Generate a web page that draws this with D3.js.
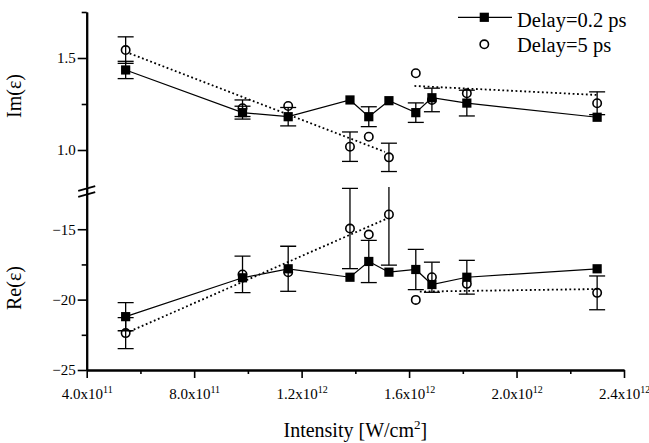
<!DOCTYPE html>
<html>
<head>
<meta charset="utf-8">
<script src="https://cdn.jsdelivr.net/npm/d3@7"></script>
<style>
  body { margin: 0; background: #fff; }
  svg { display: block; }
  svg text { font-family: 'Liberation Serif', 'DejaVu Serif', serif; }
</style>
</head>
<body>
<script>
// intensity of each measurement, W/cm^2
const intensity = [5.45e11, 9.8e11, 1.15e12, 1.38e12, 1.45e12, 1.525e12, 1.625e12, 1.685e12, 1.815e12, 2.30e12];

// Im(eps)
const im02 = [1.435, 1.203, 1.181, 1.272, 1.181, 1.268, 1.203, 1.284, 1.255, 1.178];
const im02Err = [0.047, 0.035, 0.05, 0, 0.054, 0, 0.053, 0, 0.07, 0];
const im5 = [1.543, 1.227, 1.239, 1.018, 1.072, 0.96, 1.417, 1.272, 1.308, 1.254];
const im5Err = [0.072, 0.045, 0, 0.08, 0, 0.077, 0, 0.064, 0, 0.062];

// Re(eps)
const re02 = [-21.21, -18.45, -17.81, -18.41, -17.29, -18.05, -17.86, -18.93, -18.41, -17.81];
const re02Err = [1.0, 0, 1.6, 0, 1.5, 0, 1.43, 0, 1.2, 0];
const re5 = [-22.38, -18.21, -18.05, -14.95, -15.38, -13.95, -20.02, -18.41, -18.88, -19.52];
const re5Err = [1.1, 1.3, 0, 2.85, 0, 3.6, 0, 1.07, 0, 1.2];

// dotted guide lines for the 5 ps data (two sections), [intensity, value]
const imFit = [[[5.6e11, 1.525], [1.51e12, 0.99]], [[1.62e12, 1.348], [2.30e12, 1.299]]];
const reFit = [[[5.6e11, -22.26], [1.518e12, -14.24]], [[1.64e12, -19.43], [2.30e12, -19.25]]];

const xTicks = [4e11, 8e11, 1.2e12, 1.6e12, 2.0e12, 2.4e12];
const xMinor = [6e11, 1.0e12, 1.4e12, 1.8e12, 2.2e12];
const imTicks = [1.0, 1.5], imMinor = [1.25, 1.75];
const reTicks = [-25, -20, -15], reMinor = [-22.5, -17.5];

const width = 649, height = 443;

const x = d3.scaleLinear().domain([4e11, 2.4e12]).range([86.7, 624]);
const yIm = d3.scaleLinear().domain([0.8, 1.75]).range([186.8, 12]);
const yRe = d3.scaleLinear().domain([-25, -12]).range([370, 187]);

const svg = d3.select("body").append("svg")
    .attr("width", width)
    .attr("height", height);

svg.append("clipPath").attr("id", "clipRe")
  .append("rect")
    .attr("x", x.range()[0]).attr("y", yRe.range()[1])
    .attr("width", x.range()[1] - x.range()[0] + 20)
    .attr("height", yRe.range()[0] - yRe.range()[1]);

// axes
function styleAxis(g) {
  g.attr("font-family", null).attr("font-size", 15);
  g.selectAll(".domain").attr("stroke", "#000").attr("stroke-width", 2);
  g.selectAll(".tick line").attr("stroke", "#000").attr("stroke-width", 1.6);
  g.selectAll(".tick text").attr("fill", "#000");
}

const x0 = x.range()[0];
svg.append("g").attr("transform", `translate(${x0},0)`)
  .call(d3.axisLeft(yIm).tickValues(imTicks).tickFormat(d3.format(".1f")).tickSize(9).tickSizeOuter(0).tickPadding(2))
  .call(styleAxis);
svg.append("g").attr("transform", `translate(${x0},0)`)
  .call(d3.axisLeft(yIm).tickValues(imMinor).tickFormat("").tickSize(5).tickSizeOuter(0))
  .call(styleAxis);
svg.append("g").attr("transform", `translate(${x0},0)`)
  .call(d3.axisLeft(yRe).tickValues(reTicks).tickFormat(d3.format("d")).tickSize(9).tickSizeOuter(0).tickPadding(2))
  .call(styleAxis);
svg.append("g").attr("transform", `translate(${x0},0)`)
  .call(d3.axisLeft(yRe).tickValues(reMinor).tickFormat("").tickSize(5).tickSizeOuter(0))
  .call(styleAxis);

const xAxisY = yRe.range()[0];
const gx = svg.append("g").attr("transform", `translate(0,${xAxisY})`)
  .call(d3.axisBottom(x).tickValues(xTicks).tickSize(8).tickSizeOuter(0).tickPadding(5))
  .call(styleAxis);
gx.selectAll(".tick text").each(function(d) {
  const e = Math.floor(Math.log10(d));
  const m = d / Math.pow(10, e);
  const t = d3.select(this).text(null).attr("dy", "1.05em");
  t.append("tspan").text(m.toFixed(1) + "x10");
  t.append("tspan").attr("font-size", 10).attr("dy", "-0.6em").text(e);
});
svg.append("g").attr("transform", `translate(0,${xAxisY})`)
  .call(d3.axisBottom(x).tickValues(xMinor).tickFormat("").tickSize(4).tickSizeOuter(0))
  .call(styleAxis);

// axis break marks
const breakY = 191.5;
[-3, 3].forEach(o => {
  svg.append("line")
    .attr("x1", x0 - 8.5).attr("y1", breakY + o + 2.4)
    .attr("x2", x0 + 8.5).attr("y2", breakY + o - 2.4)
    .attr("stroke", "#000").attr("stroke-width", 1.8);
});

// titles
svg.append("text")
    .attr("transform", `translate(21,96) rotate(-90)`)
    .attr("text-anchor", "middle").attr("font-size", 20)
    .text("Im(ε)");
svg.append("text")
    .attr("transform", `translate(21,288) rotate(-90)`)
    .attr("text-anchor", "middle").attr("font-size", 20)
    .text("Re(ε)");
const xt = svg.append("text")
    .attr("x", (x.range()[0] + x.range()[1]) / 2).attr("y", 437)
    .attr("text-anchor", "middle").attr("font-size", 20);
xt.append("tspan").text("Intensity [W/cm");
xt.append("tspan").attr("font-size", 13).attr("dy", -8).text("2");
xt.append("tspan").attr("dy", 8).text("]");

// panels
function panel(y, v02, e02, v5, e5, fits, clip) {
  const g = svg.append("g");
  if (clip) g.attr("clip-path", "url(#clipRe)");
  const rows02 = intensity.map((d, i) => ({ x: d, y: v02[i], e: e02[i] }));
  const rows5 = intensity.map((d, i) => ({ x: d, y: v5[i], e: e5[i] }));

  // error bars
  const errs = rows02.concat(rows5).filter(d => d.e > 0);
  const eb = g.append("g").attr("stroke", "#000").attr("stroke-width", 1.3);
  eb.selectAll("line.v").data(errs).join("line")
      .attr("x1", d => x(d.x)).attr("x2", d => x(d.x))
      .attr("y1", d => y(d.y - d.e)).attr("y2", d => y(d.y + d.e));
  eb.selectAll("line.lo").data(errs).join("line").attr("class", "lo")
      .attr("x1", d => x(d.x) - 8).attr("x2", d => x(d.x) + 8)
      .attr("y1", d => y(d.y - d.e)).attr("y2", d => y(d.y - d.e));
  eb.selectAll("line.hi").data(errs).join("line").attr("class", "hi")
      .attr("x1", d => x(d.x) - 8).attr("x2", d => x(d.x) + 8)
      .attr("y1", d => y(d.y + d.e)).attr("y2", d => y(d.y + d.e));

  // dotted guides
  g.selectAll("path.fit").data(fits).join("path").attr("class", "fit")
      .attr("fill", "none").attr("stroke", "#000")
      .attr("stroke-width", 1.8).attr("stroke-dasharray", "1.8,2.6")
      .attr("d", d3.line().x(d => x(d[0])).y(d => y(d[1])));

  // solid line 0.2 ps
  g.append("path").datum(rows02)
      .attr("fill", "none").attr("stroke", "#000").attr("stroke-width", 1.2)
      .attr("d", d3.line().x(d => x(d.x)).y(d => y(d.y)));

  g.selectAll("rect.sq").data(rows02).join("rect").attr("class", "sq")
      .attr("x", d => x(d.x) - 4.6).attr("y", d => y(d.y) - 4.6)
      .attr("width", 9.2).attr("height", 9.2).attr("fill", "#000");

  g.selectAll("circle.ci").data(rows5).join("circle").attr("class", "ci")
      .attr("cx", d => x(d.x)).attr("cy", d => y(d.y)).attr("r", 4.2)
      .attr("fill", "none").attr("stroke", "#000").attr("stroke-width", 1.6);
}

panel(yIm, im02, im02Err, im5, im5Err, imFit, false);
panel(yRe, re02, re02Err, re5, re5Err, reFit, true);

// legend
const lg = svg.append("g");
lg.append("line").attr("x1", 458).attr("x2", 512).attr("y1", 17.3).attr("y2", 17.3)
    .attr("stroke", "#000").attr("stroke-width", 1.2);
lg.append("rect").attr("x", 484.3 - 4.6).attr("y", 17.3 - 4.6).attr("width", 9.2).attr("height", 9.2);
lg.append("text").attr("x", 517).attr("y", 26.5).attr("font-size", 20.5).text("Delay=0.2 ps");
lg.append("circle").attr("cx", 484.3).attr("cy", 44.3).attr("r", 4.2)
    .attr("fill", "none").attr("stroke", "#000").attr("stroke-width", 1.6);
lg.append("text").attr("x", 517).attr("y", 52).attr("font-size", 20.5).text("Delay=5 ps");
</script>
</body>
</html>
